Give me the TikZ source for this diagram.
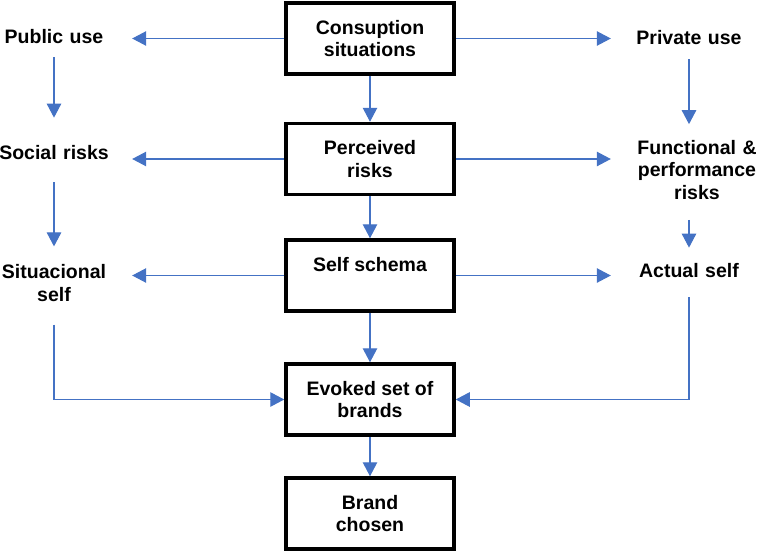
\documentclass[tikz,border=0pt]{standalone}
\usepackage{fontspec}
\setmainfont{Liberation Sans}
\usetikzlibrary{arrows.meta}
\definecolor{arrowblue}{HTML}{4472C4}
\begin{document}
\begin{tikzpicture}[x=1pt,y=-1pt,
  every node/.style={font=\bfseries\fontsize{19.5}{22.5}\selectfont},
  box/.style={draw=black,line width=3.5pt,minimum width=168pt,minimum height=71pt,align=center,inner sep=0pt,fill=white},
  lbl/.style={text width=156pt,align=center,inner sep=0pt},
  conn/.style={draw=arrowblue,line width=1.1pt,-{Triangle[length=14pt,width=14.5pt]}},
  plain/.style={draw=arrowblue,line width=1.1pt}]
\useasboundingbox (0,0) rectangle (757,552);
% central boxes
\node[box] (b1) at (370,38.5) {Consuption\\situations};
\node[box] (b2) at (370,159) {Perceived\\risks};
\node[box] (b3) at (370,275.5) {Self schema\\\mbox{}};
\node[box] (b4) at (370,399.5) {Evoked set of\\brands};
\node[box] (b5) at (370,513.5) {Brand\\chosen};
% side labels
\node[lbl] (pub) at (54,37) {Public use};
\node[lbl] (soc) at (54,153) {Social risks};
\node[lbl] (sit) at (54,283) {Situacional\\self};
\node[lbl] (priv) at (689,38) {Private use};
\node[lbl] (func) at (697,170) {Functional \&\\performance\\risks};
\node[lbl] (act) at (689,271) {Actual self};
% central arrows
\draw[conn] (b1.south) -- (b2.north);
\draw[conn] (b2.south) -- (b3.north);
\draw[conn] (b3.south) -- (b4.north);
\draw[conn] (b4.south) -- (b5.north);
% horizontal arrows
\draw[conn] (b1.west) -- (b1.west -| pub.east);
\draw[conn] (b2.west) -- (b2.west -| soc.east);
\draw[conn] (b3.west) -- (b3.west -| sit.east);
\draw[conn] (b1.east) -- (b1.east -| priv.west);
\draw[conn] (b2.east) -- (b2.east -| act.west);
\draw[conn] (b3.east) -- (b3.east -| act.west);
% side verticals
\draw[conn,shorten <=13pt,shorten >=28pt] (pub.south) -- (soc.north);
\draw[conn,shorten <=22pt,shorten >=18pt] (soc.south) -- (sit.north);
\draw[conn,shorten <=14pt,shorten >=16pt] (priv.south) -- (priv.south |- func.north);
\draw[conn,shorten <=20pt,shorten >=16pt] (act.north |- func.south) -- (act.north);
% elbows
\draw[conn,shorten <=23pt] (sit.south) |- (b4.west);
\draw[conn,shorten <=19pt] (act.south) |- (b4.east);
\end{tikzpicture}
\end{document}
